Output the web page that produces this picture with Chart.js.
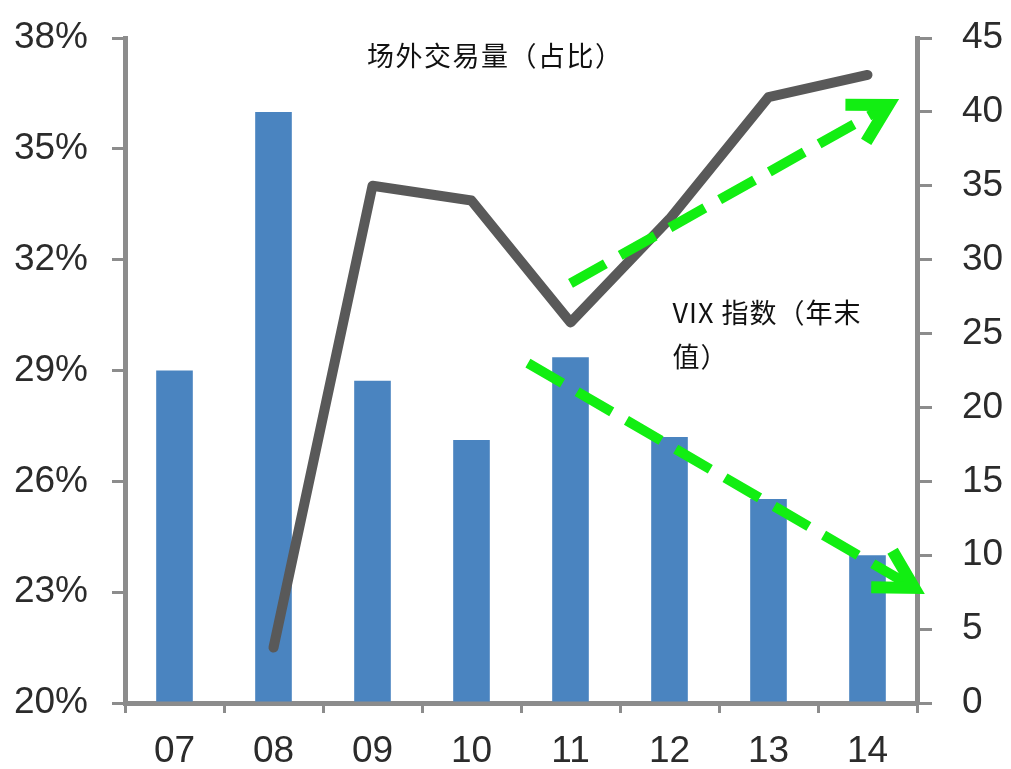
<!DOCTYPE html>
<html>
<head>
<meta charset="utf-8">
<script src="https://cdn.jsdelivr.net/npm/chart.js@4.4.1/dist/chart.umd.min.js"></script>
<style>
  html, body { margin: 0; padding: 0; background: #fff; }
  #wrap { width: 1011px; height: 769px; position: relative; }
</style>
</head>
<body>
<div id="wrap"><canvas id="vixChart"></canvas></div>
<script>
// data
const years = ['07', '08', '09', '10', '11', '12', '13', '14'];
const otcShare = [null, 21.5, 34.0, 33.6, 30.3, 33.1, 36.4, 37.0];   // % (left axis)
const vixEnd = [22.5, 40.0, 21.8, 17.8, 23.4, 18.0, 13.8, 10.0];      // right axis
const leftTicks = [20, 23, 26, 29, 32, 35, 38];
const rightTicks = [0, 5, 10, 15, 20, 25, 30, 35, 40, 45];

// trend arrows, in category-index / right-axis units
const arrowStarts = [[4.0, 28.4], [3.57, 23.0]];
const arrowEnds = [[7.3, 40.8], [7.56, 7.45]];

const axisGrey = '#8c8c8c';
const tickFont = { family: "'Liberation Sans', Arial, sans-serif", size: 37 };

const notes = {
    id: 'notes',
    afterDatasetsDraw(chart) {
        const c = chart.ctx;
        const xs = chart.scales.x, ys = chart.scales.y1;
        c.save();
        c.strokeStyle = '#12ee12';
        c.lineWidth = 10;
        for (let i = 0; i < arrowStarts.length; i++) {
            const x0 = xs.getPixelForValue(arrowStarts[i][0]), y0 = ys.getPixelForValue(arrowStarts[i][1]);
            const x1 = xs.getPixelForValue(arrowEnds[i][0]), y1 = ys.getPixelForValue(arrowEnds[i][1]);
            const ang = Math.atan2(y1 - y0, x1 - x0);
            c.setLineDash([40, 17]);
            c.lineCap = 'butt';
            c.beginPath();
            c.moveTo(x0, y0);
            c.lineTo(x1 - 16 * Math.cos(ang), y1 - 16 * Math.sin(ang));
            c.stroke();
            // arrow head
            c.setLineDash([]);
            c.lineJoin = 'miter';
            c.lineWidth = 12;
            const L = 52, spread = 0.42;
            c.beginPath();
            c.moveTo(x1 - L * Math.cos(ang - spread), y1 - L * Math.sin(ang - spread));
            c.lineTo(x1 - 10 * Math.cos(ang), y1 - 10 * Math.sin(ang));
            c.lineTo(x1 - L * Math.cos(ang + spread), y1 - L * Math.sin(ang + spread));
            c.stroke();
            c.lineWidth = 10;
        }
        c.fillStyle = '#111';
        c.textBaseline = 'middle';
        c.font = "27px 'Noto Sans CJK SC', sans-serif";
        c.letterSpacing = '1.5px';
        c.textAlign = 'center';
        c.fillText('场外交易量（占比）', xs.getPixelForValue(3.24), ys.getPixelForValue(43.8));
        c.font = "27px 'Noto Sans CJK SC', sans-serif";
        c.letterSpacing = '1px';
        c.textAlign = 'left';
        const tx = xs.getPixelForValue(5.03), ty = ys.getPixelForValue(26.4);
        c.fillText('VIX 指数（年末', tx, ty);
        c.fillText('值）', tx, ty + 44);
        c.restore();
    }
};

function noPad(s) { s.paddingTop = 0; s.paddingBottom = 0; }

const ctx = document.getElementById('vixChart').getContext('2d');
const vixChart = new Chart(ctx, {
    type: 'bar',
    data: {
        labels: years,
        datasets: [{
            type: 'line',
            label: '场外交易量（占比）',
            data: otcShare,
            yAxisID: 'y',
            borderColor: '#595959',
            borderWidth: 10,
            borderCapStyle: 'round',
            borderJoinStyle: 'round',
            pointRadius: 0,
            tension: 0,
            order: 0
        }, {
            label: 'VIX 指数（年末值）',
            data: vixEnd,
            yAxisID: 'y1',
            backgroundColor: '#4a84c0',
            categoryPercentage: 1,
            barPercentage: 0.37,
            order: 1
        }]
    },
    options: {
        responsive: true,
        maintainAspectRatio: false,
        animation: false,
        layout: { padding: { top: 38, left: 0, right: 0, bottom: 0 } },
        scales: {
            x: {
                offset: true,
                grid: { offset: true, drawOnChartArea: false, color: axisGrey, lineWidth: 3, tickLength: 10 },
                border: { color: axisGrey, width: 5 },
                ticks: { color: '#2b2b2b', font: tickFont, padding: 17 },
                afterFit(s) { s.height = 66; s.paddingLeft = 0; s.paddingRight = 0; }
            },
            y: {
                position: 'left',
                min: 20, max: 38,
                afterBuildTicks(s) { s.ticks = leftTicks.map(v => ({ value: v })); },
                grid: { drawOnChartArea: false, color: axisGrey, lineWidth: 3, tickLength: 13 },
                border: { color: axisGrey, width: 5 },
                ticks: { color: '#2b2b2b', font: tickFont, padding: 24, callback: v => v + '%' },
                afterFit(s) { s.width = 125; noPad(s); }
            },
            y1: {
                position: 'right',
                min: 0, max: 45,
                afterBuildTicks(s) { s.ticks = rightTicks.map(v => ({ value: v })); },
                grid: { drawOnChartArea: false, color: axisGrey, lineWidth: 3, tickLength: 15 },
                border: { color: axisGrey, width: 5 },
                ticks: { color: '#2b2b2b', font: tickFont, padding: 30 },
                afterFit(s) { s.width = 94; noPad(s); }
            }
        },
        plugins: {
            legend: { display: false },
            tooltip: { enabled: false }
        }
    },
    plugins: [notes]
});
</script>
</body>
</html>
